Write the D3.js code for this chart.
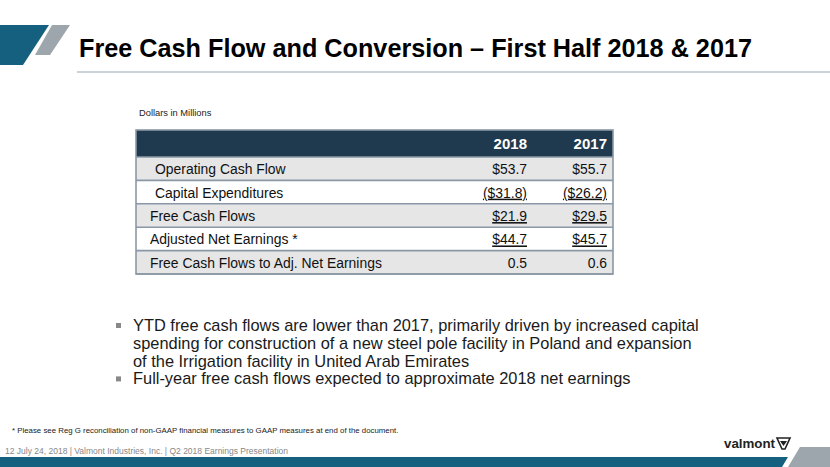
<!DOCTYPE html>
<html><head><meta charset="utf-8">
<script src="https://cdn.jsdelivr.net/npm/d3@7"></script>
<style>body{margin:0;background:#fff}svg{display:block}</style>
</head><body>
<svg id="c" width="830" height="467"></svg>
<script>
const title = "Free Cash Flow and Conversion \u2013 First Half 2018 & 2017";
const unitsNote = "Dollars in Millions";
const years = ["2018", "2017"];
const rowLabels = ["Operating Cash Flow", "Capital Expenditures", "Free Cash Flows", "Adjusted Net Earnings *", "Free Cash Flows to Adj. Net Earnings"];
const values2018 = [53.7, -31.8, 21.9, 44.7, 0.5];
const values2017 = [55.7, -26.2, 29.5, 45.7, 0.6];
const currencyRows = [true, true, true, true, false];
const underlinedRows = [false, true, true, true, false];
const indentedRows = [true, true, false, false, false];
const bulletLines = [
  ["YTD free cash flows are lower than 2017, primarily driven by increased capital",
   "spending for construction of a new steel pole facility in Poland and expansion",
   "of the Irrigation facility in United Arab Emirates"],
  ["Full-year free cash flows expected to approximate 2018 net earnings"]
];
const footnote = "* Please see Reg G reconciliation of non-GAAP financial measures to GAAP measures at end of the document.";
const footer = "12 July 24, 2018 |   Valmont Industries, Inc.  |  Q2 2018 Earnings Presentation";

const svg = d3.select("#c");
const BLUE = "#15607f", GRAY = "#9ea6ad", NAVY = "#1f3a4e";
const FONT = "Liberation Sans, Arial, sans-serif";
const SX = 0.91; // horizontal condensing of table text

// decorative header shapes
const line = d3.line();
svg.append("path").attr("d", line([[0,25],[49,25],[23,65],[0,65]]) + "Z").attr("fill", BLUE);
svg.append("path").attr("d", line([[52,25],[70,25],[50,55],[35,55]]) + "Z").attr("fill", GRAY);
svg.append("text").attr("x", 79).attr("y", 57)
  .attr("font-family", "'Liberation Sans Narrow','Arial Narrow','Liberation Sans',Arial,sans-serif")
  .attr("font-weight", "bold").attr("font-size", 25.5).attr("fill", "#000")
  .attr("textLength", 673).attr("lengthAdjust", "spacingAndGlyphs")
  .text(title);
svg.append("rect").attr("x", 77).attr("y", 71).attr("width", 753).attr("height", 2).attr("fill", "#cdd2d7");

// units note
svg.append("text").attr("x", 139).attr("y", 116).attr("font-family", FONT)
  .attr("font-size", 9.3).attr("fill", "#222").text(unitsNote);

// table
const tableX0 = 136, tableX1 = 613;
const rowEdges = d3.scaleLinear().domain([0, rowLabels.length]).range([157, 274]);
const colRight = d3.scaleOrdinal().domain(years).range([527, 607]);

svg.append("rect").attr("x", tableX0).attr("y", 130).attr("width", tableX1 - tableX0).attr("height", 27).attr("fill", NAVY);
const rows = svg.selectAll("g.row").data(rowLabels).join("g").attr("class", "row");
rows.append("rect")
  .attr("x", tableX0).attr("y", (d, i) => rowEdges(i))
  .attr("width", tableX1 - tableX0).attr("height", (d, i) => rowEdges(i + 1) - rowEdges(i))
  .attr("fill", (d, i) => i % 2 === 0 ? "#e6e6e6" : "#ffffff");
svg.selectAll("line.h").data(d3.range(0, rowLabels.length + 1)).join("line")
  .attr("x1", tableX0).attr("x2", tableX1)
  .attr("y1", i => rowEdges(i)).attr("y2", i => rowEdges(i))
  .attr("stroke", "#8a98a5").attr("stroke-width", 1.6);
svg.append("rect").attr("x", tableX0).attr("y", 130).attr("width", tableX1 - tableX0).attr("height", 144)
  .attr("fill", "none").attr("stroke", "#8a98a5").attr("stroke-width", 1.6);

svg.selectAll("text.yr").data(years).join("text").attr("class", "yr")
  .attr("transform", d => `translate(${colRight(d)},149) scale(0.97,1)`).attr("text-anchor", "end")
  .attr("font-family", FONT).attr("font-weight", "bold")
  .attr("font-size", 15.5).attr("fill", "#fff").text(d => d);

const fmt = (v, i) => {
  if (!currencyRows[i]) return d3.format(".1f")(v);
  const s = "$" + d3.format(".1f")(Math.abs(v));
  return v < 0 ? "(" + s + ")" : s;
};
const rowY = i => (rowEdges(i) + rowEdges(i + 1)) / 2 + 5.5;
rows.append("text")
  .attr("transform", (d, i) => `translate(${indentedRows[i] ? 155 : 150},${rowY(i)}) scale(${SX},1)`)
  .attr("font-family", FONT).attr("font-size", 15.3).attr("fill", "#111")
  .text(d => d);
const series = [values2018, values2017];
years.forEach((yr, k) => {
  rows.append("text")
    .attr("transform", (d, i) => `translate(${colRight(yr)},${rowY(i)}) scale(${SX},1)`)
    .attr("text-anchor", "end")
    .attr("font-family", FONT).attr("font-size", 15.3).attr("fill", "#111")
    .attr("text-decoration", (d, i) => underlinedRows[i] ? "underline" : null)
    .text((d, i) => fmt(series[k][i], i));
});

// bullets
const lineH = 17.8;
let yy = 331;
bulletLines.forEach(lines => {
  svg.append("rect").attr("x", 116).attr("y", yy - 8).attr("width", 5).attr("height", 5).attr("fill", "#888");
  lines.forEach(t => {
    svg.append("text").attr("x", 133).attr("y", yy)
      .attr("font-family", FONT).attr("font-size", 16.4).attr("fill", "#1a1a1a")
      .text(t);
    yy += lineH;
  });
});

// footnote and footer
svg.append("text").attr("x", 12).attr("y", 433).attr("font-family", FONT)
  .attr("font-size", 7.85).attr("fill", "#222").text(footnote);
svg.append("text").attr("x", 5).attr("y", 454).attr("font-family", FONT)
  .attr("font-size", 8.5).attr("fill", "#888").text(footer);

// logo
svg.append("text").attr("x", 724).attr("y", 448).attr("font-family", FONT)
  .attr("font-weight", "bold").attr("font-size", 13).attr("fill", "#222")
  .attr("textLength", 51).attr("lengthAdjust", "spacingAndGlyphs").text("valmont");
svg.append("path").attr("d", line([[777,438],[790,438],[785,449],[782,449]]) + "Z").attr("fill", "none")
  .attr("stroke", "#222").attr("stroke-width", 1.6);
svg.append("path").attr("d", line([[780,441],[787,441],[783.5,446]]) + "Z").attr("fill", "#222");

// bottom band
svg.append("path").attr("d", line([[0,457],[788,457],[782,467],[0,467]]) + "Z").attr("fill", BLUE);
svg.append("path").attr("d", line([[800,447],[830,447],[830,467],[788,467]]) + "Z").attr("fill", GRAY);
</script>
</body></html>
